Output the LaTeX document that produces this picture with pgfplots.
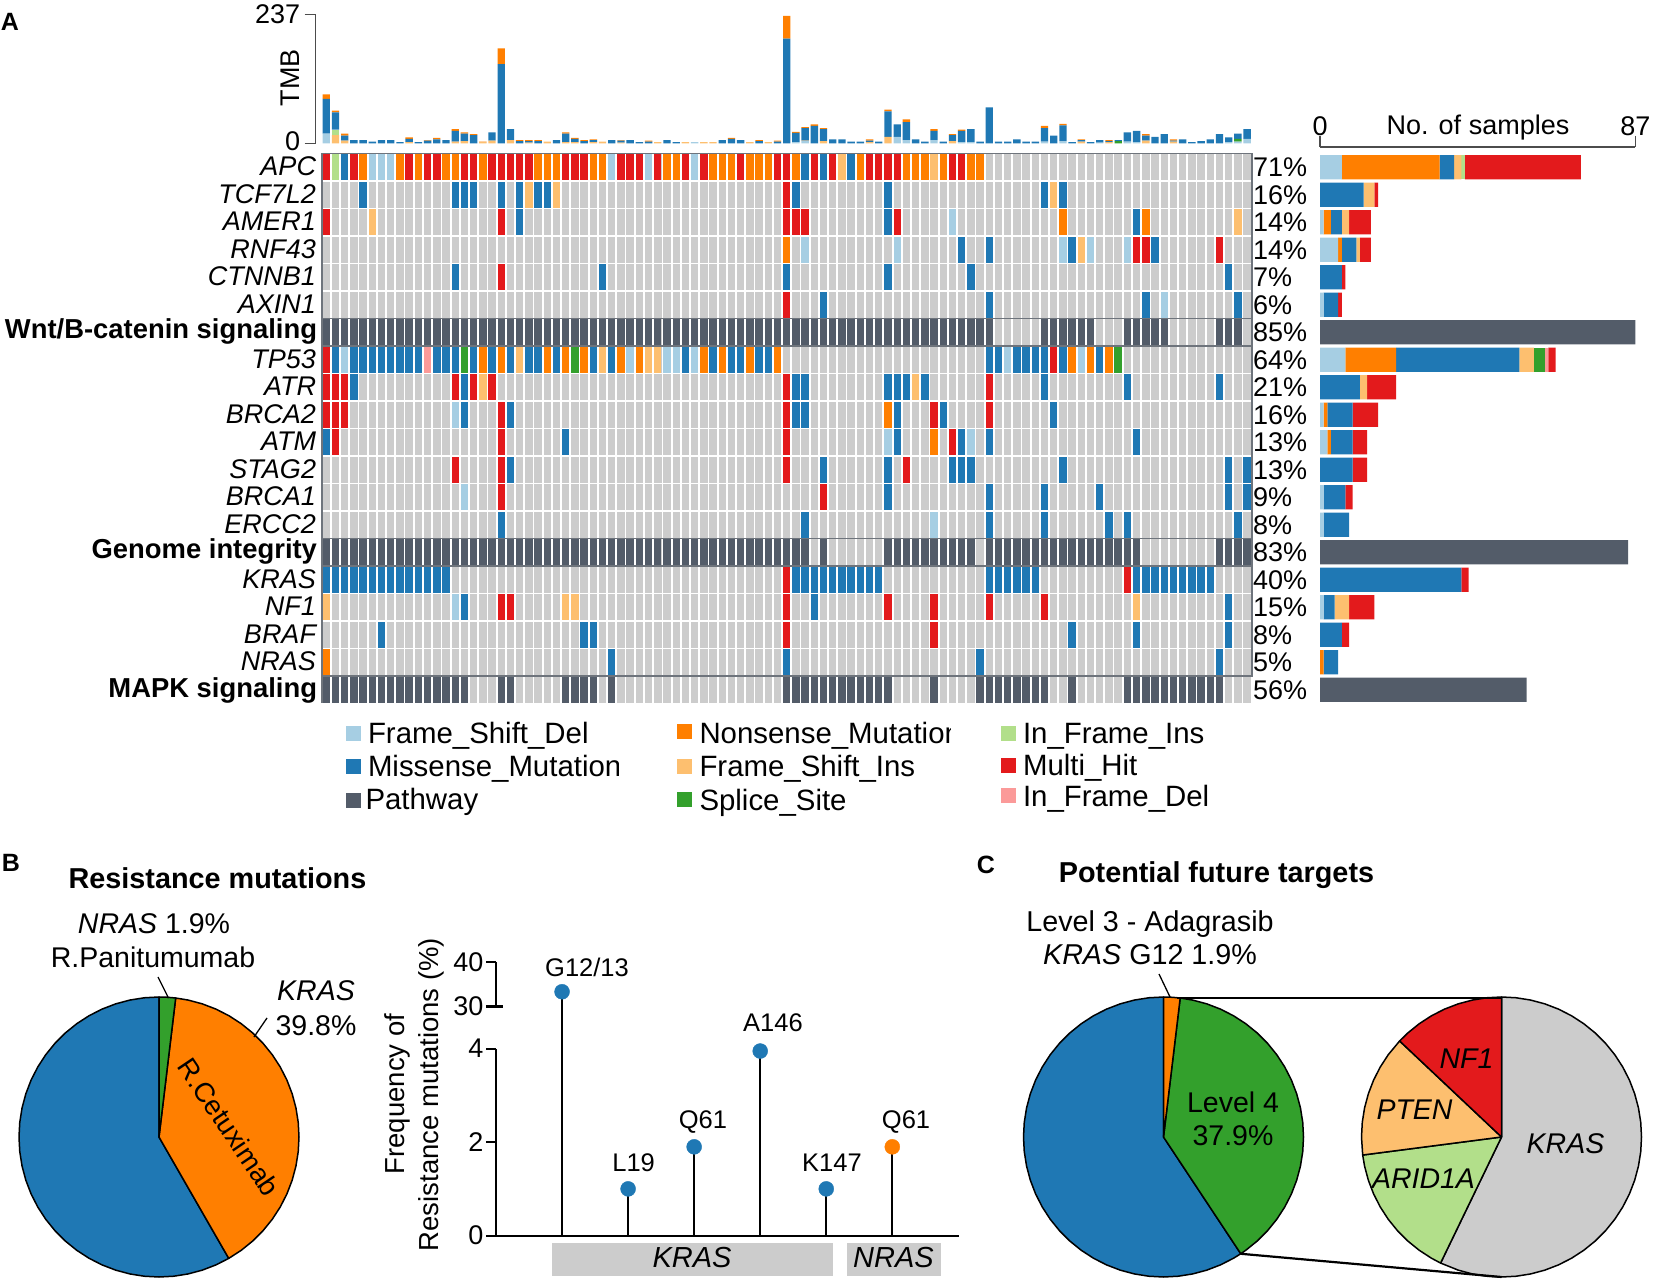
\documentclass[border=0pt]{standalone}
\usepackage{fontspec}
\setmainfont{Liberation Sans}
\usepackage{pgfplots}
\usepackage{pgfplotstable}
\pgfplotsset{compat=1.18}
\newcommand\fs[1]{\fontsize{#1}{#1}\selectfont}
\definecolor{cL}{HTML}{A6CEE3}
\definecolor{cM}{HTML}{1F78B4}
\definecolor{cO}{HTML}{FF7F00}
\definecolor{cI}{HTML}{FDBF6F}
\definecolor{cS}{HTML}{33A02C}
\definecolor{cG}{HTML}{B2DF8A}
\definecolor{cR}{HTML}{E31A1C}
\definecolor{cD}{HTML}{FB9A99}
\definecolor{cP}{HTML}{535C69}
\definecolor{cN}{HTML}{CCCCCC}
\definecolor{cF}{HTML}{6E747C}
\pgfdeclareplotmark{cell}{\pgfpathrectangle{\pgfpoint{-3.7pt}{-12.85pt}}{\pgfpoint{7.4pt}{25.7pt}}\pgfusepathqfill}
\pgfplotsset{
  pie/.style={hide axis,scale only axis,width=280pt,height=280pt,xmin=-1,xmax=1,ymin=-1,ymax=1,clip=false},
  wedge/.style={data cs=polar,fill=#1,draw=black,line width=1.5pt,line join=round,mark=none},
  /pgf/number format/assume math mode=true,
  tick label style={font=\fs{27}},
}
\pgfplotstableread{
x L I G S M O
0 18 0 0 0 64 8
1 0 15 10 0 32 3
2 0 5 0 0 9 4
3 0 0 0 0 6 0
4 0 0 0 0 6 0
5 0 0 0 0 3 0
6 0 0 0 0 6 0
7 0 0 0 0 6 0
8 0 0 0 0 2 0
9 0 2 0 0 6 3
10 0 0 0 0 2 0
11 0 0 0 0 5 1
12 0 0 0 0 7 3
13 0 0 0 0 6 0
14 0 3 0 0 20 3
15 0 4 0 0 14 2
16 0 0 0 0 15 2
17 0 2 0 0 0 1
18 0 5 0 0 15 0
19 0 0 0 0 146 29
20 0 6 0 0 20 0
21 0 0 0 0 4 2
22 0 1 0 0 3 2
23 0 0 0 0 4 2
24 0 3 0 0 0 0
25 0 0 0 0 6 0
26 0 2 0 0 16 2
27 0 2 0 0 6 2
28 0 0 0 0 4 2
29 0 2 0 0 4 1
30 0 3 0 0 0 0
31 0 0 0 0 6 0
32 0 1 0 0 4 1
33 0 0 0 0 6 0
34 0 0 0 0 2 0
35 0 0 0 0 3 2
36 0 2 0 0 0 0
37 0 0 0 0 6 0
38 0 0 0 0 2 0
39 0 2 0 0 0 0
40 2 0 0 0 0 0
41 0 2 0 0 0 0
42 0 2 0 0 0 0
43 0 0 0 0 6 0
44 0 0 0 0 8 2
45 0 0 0 0 6 0
46 0 2 0 0 0 0
47 0 0 0 0 4 2
48 0 2 0 0 0 0
49 0 0 0 0 3 2
50 0 0 0 0 193 42
51 2 0 0 0 17 2
52 4 1 0 0 23 2
53 0 0 0 0 32 3
54 0 4 0 0 22 2
55 0 0 0 0 7 0
56 0 0 0 0 7 0
57 0 0 0 0 3 0
58 0 0 0 0 3 0
59 0 2 0 0 3 2
60 0 0 0 0 3 0
61 0 12 0 0 47 3
62 12 0 0 0 23 0
63 6 0 0 0 33 5
64 0 0 0 0 7 0
65 0 0 0 0 3 0
66 6 0 0 0 17 3
67 0 0 0 0 3 0
68 0 4 0 0 11 2
69 2 0 0 0 21 2
70 2 0 0 0 24 0
71 0 0 0 0 3 0
72 0 0 0 0 66 0
73 0 0 0 0 3 0
74 0 0 0 0 3 0
75 0 0 0 0 7 0
76 0 0 0 0 3 0
77 0 0 0 0 3 0
78 3 0 0 0 25 4
79 0 0 0 0 14 0
80 4 0 0 0 29 3
81 0 0 0 0 2 0
82 0 3 0 0 3 1
83 0 0 0 0 2 0
84 1 0 0 0 5 0
85 0 2 0 0 2 2
86 0 0 0 4 2 0
87 3 0 0 0 17 0
88 2 0 0 0 21 0
89 0 5 0 0 9 3
90 0 0 0 0 12 0
91 0 0 0 0 17 0
92 0 3 0 0 2 2
93 0 0 0 0 7 0
94 0 0 0 0 2 0
95 0 0 0 0 4 0
96 0 0 0 0 7 0
97 0 0 0 0 17 0
98 2 0 0 0 9 0
99 3 0 0 5 10 0
100 8 0 0 0 18 0
}\tmb
\pgfplotstableread{
row L O M I S D G R P
0 6 27 4 2 0 0 1 32 0
1 0 0 12 3 0 0 0 1 0
2 1 2 3 2 0 0 0 6 0
3 5 1 4 1 0 0 0 3 0
4 0 0 6 0 0 0 0 1 0
5 1 0 4 0 0 0 0 1 0
6 0 0 0 0 0 0 0 0 87
7 7 14 34 4 3 1 0 2 0
8 0 0 11 2 0 0 0 8 0
9 1 1 7 0 0 0 0 7 0
10 2 1 6 0 0 0 0 4 0
11 0 0 9 0 0 0 0 4 0
12 1 0 6 0 0 0 0 2 0
13 1 0 7 0 0 0 0 0 0
14 0 0 0 0 0 0 0 0 85
15 0 0 39 0 0 0 0 2 0
16 1 0 3 4 0 0 0 7 0
17 0 0 6 0 0 0 0 2 0
18 0 1 4 0 0 0 0 0 0
19 0 0 0 0 0 0 0 0 57
}\rowbars
\begin{document}
\begin{tikzpicture}
\path[use as bounding box] (0,0) rectangle (1654pt,1283pt);
% ---------- oncoplot matrix
\begin{axis}[at={(321.7pt,579.5pt)},anchor=south west,scale only axis,width=930pt,height=550pt,
  xmin=-0.5,xmax=100.5,ymin=-0.5,ymax=19.5,y dir=reverse,
  axis background/.style={fill=cN},axis line style={draw=none},
  xtick={-0.5,0.5,...,100.5},ytick={-0.5,0.5,...,19.5},xticklabels={},yticklabels={},major tick length=0pt,
  grid=major,grid style={white,line width=1.8pt},clip=false]
\addplot[scatter,only marks,scatter src=explicit symbolic,
 scatter/classes={
  L={mark=cell,cL},M={mark=cell,cM},O={mark=cell,cO},I={mark=cell,cI},S={mark=cell,cS},
  G={mark=cell,cG},R={mark=cell,cR},D={mark=cell,cD},P={mark=cell,cP}}]
 coordinates {
 (0,0)[R](1,0)[G](2,0)[M](3,0)[R](4,0)[O](5,0)[L](6,0)[L](7,0)[L](8,0)[O](9,0)[R](10,0)[O](11,0)[R](12,0)[R](13,0)[O](14,0)[O](15,0)[R](16,0)[R](17,0)[O](18,0)[R](19,0)[R](20,0)[R](21,0)[R](22,0)[R](23,0)[O](24,0)[O](25,0)[O](26,0)[R](27,0)[R](28,0)[R](29,0)[O](30,0)[O](31,0)[L](32,0)[R](33,0)[R](34,0)[R](35,0)[L](36,0)[R](37,0)[O](38,0)[O](39,0)[R](40,0)[L](41,0)[R](42,0)[O](43,0)[O](44,0)[O](45,0)[R](46,0)[O](47,0)[O](48,0)[O](49,0)[R](50,0)[R](51,0)[O](52,0)[M](53,0)[R](54,0)[M](55,0)[R](56,0)[I](57,0)[M](58,0)[O](59,0)[R](60,0)[R](61,0)[R](62,0)[R](63,0)[O](64,0)[O](65,0)[O](66,0)[I](67,0)[O](68,0)[R](69,0)[R](70,0)[O](71,0)[O]
 (4,1)[M](14,1)[M](15,1)[M](16,1)[M](19,1)[M](21,1)[M](22,1)[I](23,1)[M](24,1)[M](25,1)[I](50,1)[R](51,1)[M](61,1)[M](78,1)[M](79,1)[I](80,1)[M]
 (0,2)[R](5,2)[I](19,2)[R](21,2)[M](50,2)[R](51,2)[R](52,2)[R](61,2)[M](62,2)[R](68,2)[L](80,2)[O](88,2)[M](89,2)[O](99,2)[I]
 (50,3)[O](52,3)[L](62,3)[L](69,3)[M](72,3)[M](80,3)[L](81,3)[M](82,3)[I](83,3)[L](87,3)[L](88,3)[R](89,3)[R](90,3)[M](97,3)[R]
 (14,4)[M](19,4)[R](30,4)[M](50,4)[M](61,4)[M](70,4)[M](98,4)[M]
 (50,5)[R](54,5)[M](72,5)[M](89,5)[M](91,5)[L](99,5)[M]
 (0,6)[P](1,6)[P](2,6)[P](3,6)[P](4,6)[P](5,6)[P](6,6)[P](7,6)[P](8,6)[P](9,6)[P](10,6)[P](11,6)[P](12,6)[P](13,6)[P](14,6)[P](15,6)[P](16,6)[P](17,6)[P](18,6)[P](19,6)[P](20,6)[P](21,6)[P](22,6)[P](23,6)[P](24,6)[P](25,6)[P](26,6)[P](27,6)[P](28,6)[P](29,6)[P](30,6)[P](31,6)[P](32,6)[P](33,6)[P](34,6)[P](35,6)[P](36,6)[P](37,6)[P](38,6)[P](39,6)[P](40,6)[P](41,6)[P](42,6)[P](43,6)[P](44,6)[P](45,6)[P](46,6)[P](47,6)[P](48,6)[P](49,6)[P](50,6)[P](51,6)[P](52,6)[P](53,6)[P](54,6)[P](55,6)[P](56,6)[P](57,6)[P](58,6)[P](59,6)[P](60,6)[P](61,6)[P](62,6)[P](63,6)[P](64,6)[P](65,6)[P](66,6)[P](67,6)[P](68,6)[P](69,6)[P](70,6)[P](71,6)[P](72,6)[P](78,6)[P](79,6)[P](80,6)[P](81,6)[P](82,6)[P](83,6)[P](87,6)[P](88,6)[P](89,6)[P](90,6)[P](91,6)[P](97,6)[P](98,6)[P](99,6)[P]
 (0,7)[R](1,7)[M](2,7)[L](3,7)[M](4,7)[M](5,7)[M](6,7)[M](7,7)[M](8,7)[M](9,7)[M](10,7)[M](11,7)[D](12,7)[M](13,7)[M](14,7)[M](15,7)[S](16,7)[M](17,7)[O](18,7)[M](19,7)[O](20,7)[M](21,7)[I](22,7)[M](23,7)[M](24,7)[O](25,7)[M](26,7)[O](27,7)[S](28,7)[O](29,7)[M](30,7)[I](31,7)[M](32,7)[O](33,7)[L](34,7)[O](35,7)[I](36,7)[I](37,7)[L](38,7)[L](39,7)[M](40,7)[L](41,7)[O](42,7)[M](43,7)[O](44,7)[M](45,7)[M](46,7)[O](47,7)[M](48,7)[M](49,7)[O](72,7)[M](73,7)[M](74,7)[L](75,7)[M](76,7)[M](77,7)[M](78,7)[M](79,7)[R](80,7)[M](81,7)[O](82,7)[L](83,7)[O](84,7)[M](85,7)[O](86,7)[S]
 (0,8)[R](1,8)[R](2,8)[R](3,8)[M](14,8)[R](15,8)[M](16,8)[R](17,8)[I](18,8)[R](50,8)[R](51,8)[M](52,8)[M](61,8)[M](62,8)[M](63,8)[M](64,8)[I](65,8)[M](72,8)[R](78,8)[M](87,8)[M](97,8)[M]
 (0,9)[R](1,9)[R](2,9)[R](14,9)[L](15,9)[M](19,9)[R](20,9)[M](50,9)[R](51,9)[M](52,9)[M](61,9)[O](62,9)[M](66,9)[R](67,9)[M](72,9)[R](79,9)[M]
 (0,10)[M](1,10)[R](19,10)[R](26,10)[M](50,10)[R](61,10)[L](62,10)[M](66,10)[O](68,10)[R](69,10)[M](70,10)[L](72,10)[M](88,10)[M]
 (14,11)[R](19,11)[R](20,11)[M](50,11)[R](54,11)[M](61,11)[M](63,11)[R](68,11)[M](69,11)[M](70,11)[M](80,11)[M](98,11)[M](100,11)[M]
 (15,12)[L](19,12)[R](54,12)[R](61,12)[M](72,12)[M](78,12)[M](84,12)[M](98,12)[M](100,12)[M]
 (19,13)[M](52,13)[M](66,13)[L](72,13)[M](78,13)[M](85,13)[M](87,13)[M](99,13)[M]
 (0,14)[P](1,14)[P](2,14)[P](3,14)[P](4,14)[P](5,14)[P](6,14)[P](7,14)[P](8,14)[P](9,14)[P](10,14)[P](11,14)[P](12,14)[P](13,14)[P](14,14)[P](15,14)[P](16,14)[P](17,14)[P](18,14)[P](19,14)[P](20,14)[P](21,14)[P](22,14)[P](23,14)[P](24,14)[P](25,14)[P](26,14)[P](27,14)[P](28,14)[P](29,14)[P](30,14)[P](31,14)[P](32,14)[P](33,14)[P](34,14)[P](35,14)[P](36,14)[P](37,14)[P](38,14)[P](39,14)[P](40,14)[P](41,14)[P](42,14)[P](43,14)[P](44,14)[P](45,14)[P](46,14)[P](47,14)[P](48,14)[P](49,14)[P](50,14)[P](51,14)[P](52,14)[P](54,14)[P](61,14)[P](62,14)[P](63,14)[P](64,14)[P](65,14)[P](66,14)[P](67,14)[P](68,14)[P](69,14)[P](70,14)[P](72,14)[P](73,14)[P](74,14)[P](75,14)[P](76,14)[P](77,14)[P](78,14)[P](79,14)[P](80,14)[P](81,14)[P](82,14)[P](83,14)[P](84,14)[P](85,14)[P](86,14)[P](87,14)[P](88,14)[P](97,14)[P](98,14)[P](99,14)[P](100,14)[P]
 (0,15)[M](1,15)[M](2,15)[M](3,15)[M](4,15)[M](5,15)[M](6,15)[M](7,15)[M](8,15)[M](9,15)[M](10,15)[M](11,15)[M](12,15)[M](13,15)[M](50,15)[R](51,15)[M](52,15)[M](53,15)[M](54,15)[M](55,15)[M](56,15)[M](57,15)[M](58,15)[M](59,15)[M](60,15)[M](72,15)[M](73,15)[M](74,15)[M](75,15)[M](76,15)[M](77,15)[M](87,15)[R](88,15)[M](89,15)[M](90,15)[M](91,15)[M](92,15)[M](93,15)[M](94,15)[M](95,15)[M](96,15)[M]
 (0,16)[I](14,16)[L](15,16)[M](19,16)[R](20,16)[R](26,16)[I](27,16)[I](50,16)[R](53,16)[M](61,16)[R](66,16)[R](72,16)[R](78,16)[R](88,16)[I](98,16)[M]
 (6,17)[M](28,17)[M](29,17)[M](50,17)[R](66,17)[R](81,17)[M](88,17)[M](98,17)[M]
 (0,18)[O](31,18)[M](50,18)[M](71,18)[M](97,18)[M]
 (0,19)[P](1,19)[P](2,19)[P](3,19)[P](4,19)[P](5,19)[P](6,19)[P](7,19)[P](8,19)[P](9,19)[P](10,19)[P](11,19)[P](12,19)[P](13,19)[P](14,19)[P](15,19)[P](19,19)[P](20,19)[P](26,19)[P](27,19)[P](28,19)[P](29,19)[P](31,19)[P](50,19)[P](51,19)[P](52,19)[P](53,19)[P](54,19)[P](55,19)[P](56,19)[P](57,19)[P](58,19)[P](59,19)[P](60,19)[P](61,19)[P](66,19)[P](71,19)[P](72,19)[P](73,19)[P](74,19)[P](75,19)[P](76,19)[P](77,19)[P](78,19)[P](81,19)[P](87,19)[P](88,19)[P](89,19)[P](90,19)[P](91,19)[P](92,19)[P](93,19)[P](94,19)[P](95,19)[P](96,19)[P](97,19)[P]
 };
\end{axis}
% ---------- TMB
\begin{axis}[at={(315.7pt,1139.7pt)},anchor=south west,scale only axis,width=936pt,height=128.6pt,
  xmin=-1.15,xmax=100.5,ymin=0,ymax=237,ybar stacked,bar width=0.8,
  axis x line=none,axis y line*=left,y axis line style={-,draw=black!70,line width=1.4pt},
  ytick={0,237},yticklabels={\raisebox{4pt}{0},237},tick align=outside,major tick length=11pt,tick style={draw=black!70,line width=1.4pt},
  yticklabel style={xshift=-1pt}]
\addplot[fill=cL,draw=none] table[x=x,y=L]{\tmb};
\addplot[fill=cI,draw=none] table[x=x,y=I]{\tmb};
\addplot[fill=cG,draw=none] table[x=x,y=G]{\tmb};
\addplot[fill=cS,draw=none] table[x=x,y=S]{\tmb};
\addplot[fill=cM,draw=none] table[x=x,y=M]{\tmb};
\addplot[fill=cO,draw=none] table[x=x,y=O]{\tmb};
\end{axis}
% ---------- samples per gene
\begin{axis}[at={(1320pt,579.5pt)},anchor=south west,scale only axis,width=315.3pt,height=556.5pt,
  xmin=0,xmax=87,ymin=-0.74,ymax=19.5,y dir=reverse,xbar stacked,bar width=0.88,
  axis y line=none,axis x line*=top,x axis line style={-,draw=black!70,line width=1.4pt},
  xtick={0,87},tick align=outside,major tick length=11pt,tick style={draw=black!70,line width=1.4pt},
  xticklabel pos=upper,xticklabel style={yshift=-3pt}]
\addplot[fill=cL,draw=none] table[x=L,y=row]{\rowbars};
\addplot[fill=cO,draw=none] table[x=O,y=row]{\rowbars};
\addplot[fill=cM,draw=none] table[x=M,y=row]{\rowbars};
\addplot[fill=cI,draw=none] table[x=I,y=row]{\rowbars};
\addplot[fill=cS,draw=none] table[x=S,y=row]{\rowbars};
\addplot[fill=cD,draw=none] table[x=D,y=row]{\rowbars};
\addplot[fill=cG,draw=none] table[x=G,y=row]{\rowbars};
\addplot[fill=cR,draw=none] table[x=R,y=row]{\rowbars};
\addplot[fill=cP,draw=none] table[x=P,y=row]{\rowbars};
\end{axis}
% ---------- pie B
\begin{axis}[pie,at={(19pt,6pt)},anchor=south west]
\addplot[wedge=cM] coordinates {(0,0)(-60.12,1)(-66,1)(-72,1)(-78,1)(-84,1)(-90,1)(-96,1)(-102,1)(-108,1)(-114,1)(-120,1)(-126,1)(-132,1)(-138,1)(-144,1)(-150,1)(-156,1)(-162,1)(-168,1)(-174,1)(-180,1)(-186,1)(-192,1)(-198,1)(-204,1)(-210,1)(-216,1)(-222,1)(-228,1)(-234,1)(-240,1)(-246,1)(-252,1)(-258,1)(-264,1)(-270,1)} -- cycle;
\addplot[wedge=cO] coordinates {(0,0)(83.16,1)(78,1)(72,1)(66,1)(60,1)(54,1)(48,1)(42,1)(36,1)(30,1)(24,1)(18,1)(12,1)(6,1)(0,1)(-6,1)(-12,1)(-18,1)(-24,1)(-30,1)(-36,1)(-42,1)(-48,1)(-54,1)(-60.12,1)} -- cycle;
\addplot[wedge=cS] coordinates {(0,0)(90,1)(86.5,1)(83.16,1)} -- cycle;
\end{axis}
% ---------- lollipop, lower part
\begin{axis}[at={(496pt,47.4pt)},anchor=south west,scale only axis,width=463pt,height=186.9pt,
  xmin=-1,xmax=6.01,ymin=0,ymax=4,clip=false,
  axis x line*=bottom,axis y line*=left,x axis line style={-,line width=2.2pt},y axis line style={-,line width=2.2pt},
  xtick=\empty,ytick={0,2,4},tick align=outside,major tick length=10pt,tick style={black,line width=2.2pt},
  yticklabel style={xshift=1pt}]
\addplot[ycomb,black,line width=2.2pt,mark=none] coordinates {(1,1.0)(2,1.9)(3,3.95)(4,1.0)(5,1.9)};
\addplot[only marks,mark=*,mark size=7.5pt,cM] coordinates {(1,1.0)(2,1.9)(3,3.95)(4,1.0)};
\addplot[only marks,mark=*,mark size=7.5pt,cO] coordinates {(5,1.9)};
\end{axis}
% ---------- lollipop, upper part
\begin{axis}[at={(496pt,276.6pt)},anchor=south west,scale only axis,width=463pt,height=44.4pt,
  xmin=-1,xmax=6.01,ymin=30,ymax=40,clip=false,
  axis x line=none,axis y line*=left,y axis line style={-,line width=2.2pt},
  ytick={30,40},tick align=outside,major tick length=10pt,tick style={black,line width=2.2pt},
  yticklabel style={xshift=1pt}]
\addplot[black,line width=2.2pt,mark=none] coordinates {(0,33.3)(0,-21.6)};
\addplot[only marks,mark=*,mark size=7.5pt,cM] coordinates {(0,33.3)};
\end{axis}
% ---------- pie C
\begin{axis}[pie,at={(1023.5pt,6pt)},anchor=south west]
\addplot[wedge=cM] coordinates {(0,0)(-56.5,1)(-60,1)(-66,1)(-72,1)(-78,1)(-84,1)(-90,1)(-96,1)(-102,1)(-108,1)(-114,1)(-120,1)(-126,1)(-132,1)(-138,1)(-144,1)(-150,1)(-156,1)(-162,1)(-168,1)(-174,1)(-180,1)(-186,1)(-192,1)(-198,1)(-204,1)(-210,1)(-216,1)(-222,1)(-228,1)(-234,1)(-240,1)(-246,1)(-252,1)(-258,1)(-264,1)(-270,1)} -- cycle;
\addplot[wedge=cS] coordinates {(0,0)(83.16,1)(78,1)(72,1)(66,1)(60,1)(54,1)(48,1)(42,1)(36,1)(30,1)(24,1)(18,1)(12,1)(6,1)(0,1)(-6,1)(-12,1)(-18,1)(-24,1)(-30,1)(-36,1)(-42,1)(-48,1)(-54,1)(-56.5,1)} -- cycle;
\addplot[wedge=cO] coordinates {(0,0)(90,1)(86.5,1)(83.16,1)} -- cycle;
\end{axis}
% ---------- pie C inset
\begin{axis}[pie,at={(1361.5pt,6pt)},anchor=south west]
\addplot[wedge=cN] coordinates {(0,0)(90,1)(84,1)(78,1)(72,1)(66,1)(60,1)(54,1)(48,1)(42,1)(36,1)(30,1)(24,1)(18,1)(12,1)(6,1)(0,1)(-6,1)(-12,1)(-18,1)(-24,1)(-30,1)(-36,1)(-42,1)(-48,1)(-54,1)(-60,1)(-66,1)(-72,1)(-78,1)(-84,1)(-90,1)(-96,1)(-102,1)(-108,1)(-115.8,1)} -- cycle;
\addplot[wedge=cG] coordinates {(0,0)(-115.8,1)(-120,1)(-126,1)(-132,1)(-138,1)(-144,1)(-150,1)(-156,1)(-162,1)(-168,1)(-172.6,1)} -- cycle;
\addplot[wedge=cI] coordinates {(0,0)(-172.6,1)(-180,1)(-186,1)(-192,1)(-198,1)(-204,1)(-210,1)(-216,1)(-223.3,1)} -- cycle;
\addplot[wedge=cR] coordinates {(0,0)(-223.3,1)(-228,1)(-234,1)(-240,1)(-246,1)(-252,1)(-258,1)(-264,1)(-270,1)} -- cycle;
\end{axis}
% ---------- annotations, in pixel coordinates of the reference
\begin{scope}[x=1pt,y=-1pt,yshift=1283pt,every node/.style={inner sep=0pt,outer sep=0pt}]
% frames of the gene groups
\draw[cF,line width=1.6pt] (321.7,153.5) rectangle (1251.7,318.5);
\draw[cF,line width=1.6pt] (321.7,318.5) rectangle (1251.7,346);
\draw[cF,line width=1.6pt] (321.7,346) rectangle (1251.7,538.5);
\draw[cF,line width=1.6pt] (321.7,538.5) rectangle (1251.7,566);
\draw[cF,line width=1.6pt] (321.7,566) rectangle (1251.7,676);
\draw[cF,line width=1.6pt] (321.7,676) -- (321.7,703.5);
% row labels
\foreach \r/\n in {0/APC,1/TCF7L2,2/AMER1,3/RNF43,4/CTNNB1,5/AXIN1,7/TP53,8/ATR,9/BRCA2,10/ATM,11/STAG2,12/BRCA1,13/ERCC2,15/KRAS,16/NF1,17/BRAF,18/NRAS}
  \node[anchor=base east,font=\fs{27}\itshape] at (316,{153.5+27.5*\r+13.75+8.5}) {\n};
\node[anchor=base east,font=\fs{27.4}\bfseries] at (317,338.5) {Wnt/B-catenin signaling};
\node[anchor=base east,font=\fs{27.4}\bfseries] at (317,558.5) {Genome integrity};
\node[anchor=base east,font=\fs{27.4}\bfseries] at (317,698) {MAPK signaling};
\foreach \r/\n in {0/71,1/16,2/14,3/14,4/7,5/6,6/85,7/64,8/21,9/16,10/13,11/13,12/9,13/8,14/83,15/40,16/15,17/8,18/5,19/56}
  \node[anchor=base west,font=\fs{27}] at (1253,{153.5+27.5*\r+13.75+9.5}) {\n\%};
% top labels
\node[rotate=90,font=\fs{27}] at (290,78) {TMB};
\node[font=\fs{27}] at (1478,128) {No. of samples};
\node[font=\fs{25}\bfseries] at (10,22) {A};
\node[font=\fs{25}\bfseries] at (11,863) {B};
\node[font=\fs{25}\bfseries] at (986,865) {C};
% legend
\foreach \x/\y/\c in {353/734/cL,353/767/cM,353/800.5/cP,684/732/cO,684/767/cI,684/800/cS,1008.5/734/cG,1008.5/766/cR,1008.5/796/cD}
  \fill[\c] (\x-7.5,\y-7.5) rectangle (\x+7.5,\y+7.5);
\node[anchor=base west,font=\fs{29.4}] at (368,744) {Frame\_Shift\_Del};
\node[anchor=base west,font=\fs{29.4}] at (368,777) {Missense\_Mutation};
\node[anchor=base west,font=\fs{29.4}] at (365.5,810) {Pathway};
\node[anchor=base west,font=\fs{29.4}] at (699.5,744) {Nonsense\_Mutation};
\node[anchor=base west,font=\fs{29.4}] at (699.5,777) {Frame\_Shift\_Ins};
\node[anchor=base west,font=\fs{29.4}] at (699.5,811) {Splice\_Site};
\node[anchor=base west,font=\fs{29.4}] at (1023,744) {In\_Frame\_Ins};
\node[anchor=base west,font=\fs{29.4}] at (1023,776) {Multi\_Hit};
\node[anchor=base west,font=\fs{29.4}] at (1023,807) {In\_Frame\_Del};
\fill[white] (950.5,720) rectangle (975,755);
\fill[white] (619,755) rectangle (640,785);
% panel B
\node[font=\fs{28.8}\bfseries] at (217.5,878) {Resistance mutations};
\node[font=\fs{28.5}] at (154,924) {\textit{NRAS} 1.9\%};
\node[font=\fs{28.5}] at (153,957) {R.Panitumumab};
\node[font=\fs{28.5}\itshape] at (316,991) {KRAS};
\node[font=\fs{28.5}] at (316,1025.5) {39.8\%};
\node[rotate=-56,font=\fs{27.5}] at (229,1127) {R.Cetuximab};
\draw[black,line width=1.3pt] (158,977) -- (168.5,998);
\draw[black,line width=1.3pt] (267,1018) -- (254,1037);
% lollipop labels
\node[rotate=90,font=\fs{27.5}] at (397,1094) {Frequency of};
\node[rotate=90,font=\fs{27.5}] at (431,1094.5) {Resistance mutations (\%)};
\draw[black,line width=2.2pt] (487,1006.4) -- (503,1006.4);
\node[font=\fs{25.5}] at (587,967) {G12/13};
\node[font=\fs{25.5}] at (633.6,1163) {L19};
\node[font=\fs{25.5}] at (703,1122.5) {Q61};
\node[font=\fs{25.5}] at (773,1023) {A146};
\node[font=\fs{25.5}] at (832,1163) {K147};
\node[font=\fs{25.5}] at (906,1122.5) {Q61};
\fill[cN] (552,1243) rectangle (833,1276);
\fill[cN] (847,1243) rectangle (941,1276);
\node[font=\fs{29}\itshape] at (692,1258) {KRAS};
\node[font=\fs{29}\itshape] at (893.5,1258) {NRAS};
% panel C
\node[font=\fs{28.8}\bfseries] at (1216.5,875.5) {Potential future targets};
\node[font=\fs{28.7}] at (1150,924) {Level 3 - Adagrasib};
\node[font=\fs{28.7}] at (1150,955) {\textit{KRAS} G12 1.9\%};
\draw[black,line width=1.3pt] (1159,974) -- (1170,997);
\draw[black,line width=2.2pt] (1176.5,998) -- (1501.5,998);
\draw[black,line width=2.2pt] (1241,1253.8) -- (1501.5,1277);
\node[font=\fs{28.5}] at (1233,1102) {Level 4};
\node[font=\fs{28.5}] at (1233,1136) {37.9\%};
\node[font=\fs{28.5}\itshape] at (1466.5,1059) {NF1};
\node[font=\fs{28.5}\itshape] at (1414.5,1110) {PTEN};
\node[font=\fs{28.5}\itshape] at (1565.5,1144) {KRAS};
\node[font=\fs{28.5}\itshape] at (1423.5,1178.5) {ARID1A};
\end{scope}
\end{tikzpicture}
\end{document}
